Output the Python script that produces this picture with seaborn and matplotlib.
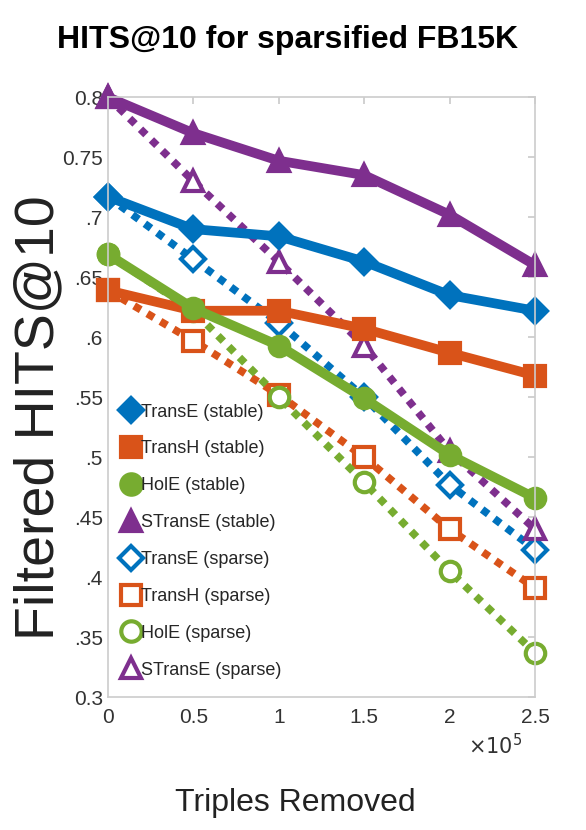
import pandas as pd
import numpy as np
import matplotlib
matplotlib.use('Agg')
import matplotlib.pyplot as plt
import seaborn as sns

# Data (x in units of 1e5 triples removed)
triples_removed = [0, 0.5, 1, 1.5, 2, 2.5]

transe_stable = [0.717, 0.690, 0.684, 0.663, 0.635, 0.622]
transh_stable = [0.639, 0.622, 0.622, 0.607, 0.587, 0.568]
hole_stable = [0.669, 0.624, 0.593, 0.549, 0.502, 0.466]
stranse_stable = [0.800, 0.770, 0.747, 0.735, 0.702, 0.660]

transe_sparse = [0.717, 0.665, 0.612, 0.550, 0.477, 0.423]
transh_sparse = [0.639, 0.597, 0.552, 0.500, 0.440, 0.391]
hole_sparse = [0.669, 0.622, 0.550, 0.479, 0.405, 0.337]
stranse_sparse = [0.800, 0.730, 0.663, 0.593, 0.505, 0.440]

y_ticks = [0.3, 0.35, 0.4, 0.45, 0.5, 0.55, 0.6, 0.65, 0.7, 0.75, 0.8]
y_tick_labels = ['0.3', '.35', '.4', '.45', '.5', '.55', '.6', '.65', '.7', '0.75', '0.8']
x_ticks = [0, 0.5, 1, 1.5, 2, 2.5]
x_tick_labels = ['0', '0.5', '1', '1.5', '2', '2.5']

blue, orange, green, purple = '#0072BD', '#D95319', '#77AC30', '#7E2F8E'

series = [
    ('TransE (stable)', transe_stable, blue, 'D', True),
    ('TransH (stable)', transh_stable, orange, 's', True),
    ('HolE (stable)', hole_stable, green, 'o', True),
    ('STransE (stable)', stranse_stable, purple, '^', True),
    ('TransE (sparse)', transe_sparse, blue, 'D', False),
    ('TransH (sparse)', transh_sparse, orange, 's', False),
    ('HolE (sparse)', hole_sparse, green, 'o', False),
    ('STransE (sparse)', stranse_sparse, purple, '^', False),
]

sns.set_theme(style="white")
plt.rcParams['font.family'] = ['Liberation Sans', 'DejaVu Sans']

fig = plt.figure(figsize=(5.86, 8.3), dpi=100)
ax = fig.add_axes([0.184, 0.160, 0.729, 0.723])

# sparse (dotted) first so the shared start points show filled markers
for name, vals, color, marker, filled in series[4:] + series[:4]:
    df = pd.DataFrame({'x': triples_removed, 'y': vals})
    sns.lineplot(data=df, x='x', y='y', ax=ax, color=color,
                 linestyle='-' if filled else (0, (1, 1)),
                 linewidth=7 if filled else 5.5, marker=marker,
                 markersize=14 if marker != 'D' else 12,
                 markerfacecolor=color if filled else 'white',
                 markeredgecolor=color, markeredgewidth=3,
                 label=name, clip_on=False)
    ax.lines[-1].set_dash_capstyle('butt')

ax.set_xlim(0, 2.5)
ax.set_ylim(0.3, 0.8)
ax.set_xticks(x_ticks)
ax.set_xticklabels(x_tick_labels)
ax.set_yticks(y_ticks)
ax.set_yticklabels(y_tick_labels)
ax.tick_params(axis='x', pad=8)
ax.tick_params(axis='both', direction='in', length=5, color='#cccccc',
               labelsize=15, labelcolor='#333333', top=True, right=True)
for s in ax.spines.values():
    s.set_color('#cccccc')
    s.set_linewidth(1.2)

ax.set_xlabel('Triples Removed', fontsize=23, color='#222222')
ax.xaxis.set_label_coords(0.44, -0.152)
ax.set_ylabel('Filtered HITS@10', fontsize=40, color='#222222')
ax.yaxis.set_label_coords(-0.10, 0.465)
fig.text(0.49, 0.952, 'HITS@10 for sparsified FB15K', ha='center', va='center',
         fontsize=23, fontweight='bold', color='black')
ax.text(0.97, -0.06, r'$\times10^5$', transform=ax.transAxes, ha='right',
        va='top', fontsize=15, color='#333333')

handles, labels = ax.get_legend_handles_labels()
order = [labels.index(s[0]) for s in series]
leg = ax.legend([handles[i] for i in order], [labels[i] for i in order],
                loc='lower left', bbox_to_anchor=(0.005, 0.01), frameon=False,
                fontsize=13, handlelength=0.9, handletextpad=0.1,
                labelspacing=1.1, borderaxespad=0.3, markerscale=1.05)
for h in leg.legend_handles:
    h.set_linestyle('None')

fig.savefig('out.png', dpi=100)
plt.close(fig)
